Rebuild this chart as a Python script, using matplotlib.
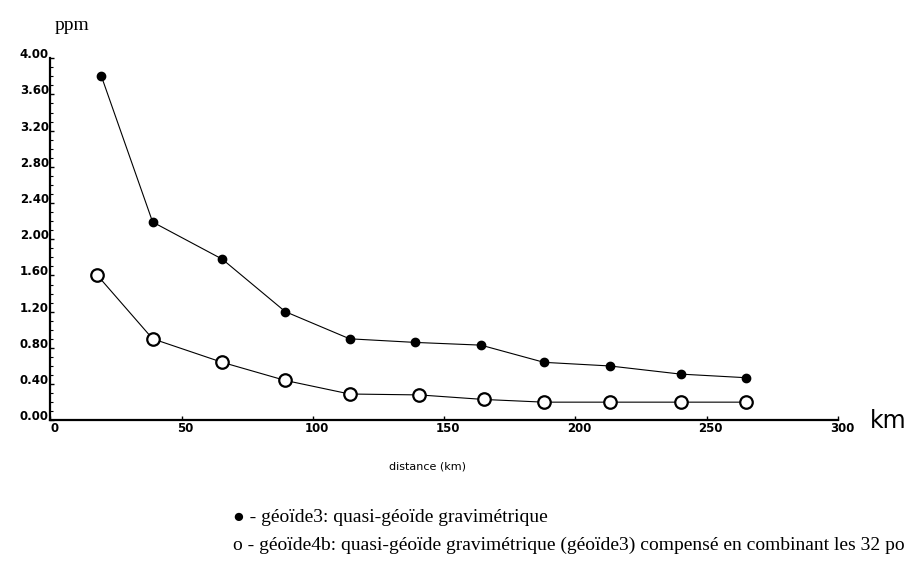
"""
Erreur relative du quasi-géoïde en fonction de la distance (ppm)
"""

import matplotlib
matplotlib.use("Agg")
import matplotlib.pyplot as plt
import matplotlib.transforms as mtransforms
import numpy as np

# ------------------------------ Données ------------------------------#
dist_geoide3 = [19.5, 39, 65.5, 89.5, 114, 139, 164, 188, 213, 240, 265]
ppm_geoide3 = [3.80, 2.19, 1.78, 1.20, 0.90, 0.86, 0.83, 0.64, 0.60, 0.51, 0.47]

dist_geoide4b = [18, 39, 65.5, 89.5, 114, 140.5, 165, 188, 213, 240, 265]
ppm_geoide4b = [1.60, 0.90, 0.64, 0.44, 0.29, 0.28, 0.23, 0.20, 0.20, 0.20, 0.20]

y_ticks = np.arange(0, 4.01, 0.40)
x_ticks = [0, 50, 100, 150, 200, 250, 300]

legend_lines = [
    "\u25cf - géoïde3: quasi-géoïde gravimétrique",
    "o - géoïde4b: quasi-géoïde gravimétrique (géoïde3) compensé en combinant les 32 po",
]

SERIF = ["Liberation Serif", "DejaVu Serif"]

# ------------------------------ Figure ------------------------------#
fig = plt.figure(figsize=(9.13, 5.71), dpi=100)
ax = fig.add_axes([0.055, 0.264, 0.863, 0.634])

ax.plot(dist_geoide3, ppm_geoide3, color="black", lw=0.8, marker="o",
        ms=6, mfc="black", mec="black", zorder=3)
ax.plot(dist_geoide4b, ppm_geoide4b, color="black", lw=0.8, marker="o",
        ms=9, mfc="white", mec="black", mew=1.6, zorder=3)

ax.set_xlim(0, 300)
ax.set_ylim(0, 4.0)
ax.set_xticks(x_ticks)
ax.set_xticklabels([str(v) for v in x_ticks])
ax.set_yticks(y_ticks)
ax.set_yticklabels([f"{v:.2f}" for v in y_ticks])
ax.set_yticks(np.arange(0, 4.01, 0.10), minor=True)

for side in ("top", "right"):
    ax.spines[side].set_visible(False)
for side in ("left", "bottom"):
    ax.spines[side].set_linewidth(1.6)

ax.tick_params(axis="both", which="major", direction="in", length=3,
               width=1, labelsize=8.5, pad=1)
ax.tick_params(axis="y", which="minor", direction="in", length=2, width=0.8)

# étiquettes de l'axe y légèrement au-dessus des graduations
shift_up = mtransforms.ScaledTranslation(0, 5 / 100, fig.dpi_scale_trans)
for lbl in ax.get_yticklabels():
    lbl.set_fontweight("bold")
    lbl.set_transform(lbl.get_transform() + shift_up)
shift_right = mtransforms.ScaledTranslation(4 / 100, 0, fig.dpi_scale_trans)
for lbl in ax.get_xticklabels():
    lbl.set_fontweight("bold")
    lbl.set_transform(lbl.get_transform() + shift_right)

# unités des axes
fig.text(0.079, 0.955, "ppm", family=SERIF, fontsize=14, ha="center", va="center")
fig.text(0.953, 0.262, "km", fontsize=17, ha="left", va="center")
fig.text(0.468, 0.183, "distance (km)", fontsize=8, ha="center", va="center")

# légende
fig.text(0.255, 0.093, legend_lines[0], family=SERIF, fontsize=14, ha="left", va="center")
fig.text(0.255, 0.045, legend_lines[1], family=SERIF, fontsize=14, ha="left", va="center")

fig.savefig("out.png", dpi=100)
